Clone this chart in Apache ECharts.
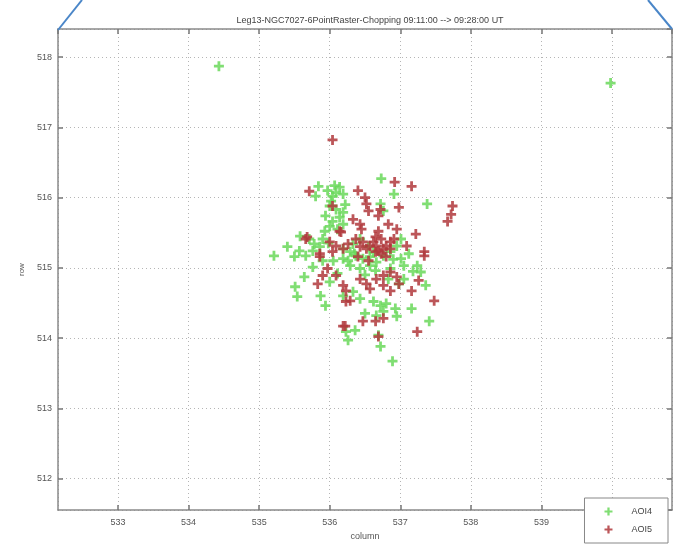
<!DOCTYPE html>
<html>
<head>
<meta charset="utf-8">
<script src="https://cdn.jsdelivr.net/npm/echarts@6/dist/echarts.min.js"></script>
<style>
  html, body { margin: 0; padding: 0; background: #fff; }
  #chart { width: 673px; height: 546px; }
</style>
</head>
<body>
<div id="chart"></div>
<script>
// AOI4 (green) centroid positions [column, row]
const aoi4Points = [
  [534.43, 517.87], [539.98, 517.63],
  [536.73, 516.27], [535.84, 516.16], [536.07, 516.17], [536.14, 516.15], [536.09, 516.07],
  [536.19, 516.05], [536.04, 516.02], [535.80, 516.02], [536.91, 516.05], [537.38, 515.91],
  [536.00, 515.88], [536.09, 515.83], [536.19, 515.79], [535.94, 515.74], [536.04, 515.66],
  [536.14, 515.72], [536.19, 515.62], [536.00, 515.59], [536.72, 515.91], [536.76, 515.81],
  [535.93, 515.52], [535.90, 515.41], [535.58, 515.45], [535.71, 515.41], [535.78, 515.34],
  [535.86, 515.30], [535.76, 515.24], [535.40, 515.30], [535.57, 515.24], [535.66, 515.17],
  [535.50, 515.16], [535.21, 515.17],
  [536.19, 515.27], [536.29, 515.23], [536.37, 515.17], [536.47, 515.13], [536.57, 515.16],
  [536.19, 515.13], [536.29, 515.03], [536.43, 514.99], [536.57, 515.03], [536.66, 515.08],
  [536.76, 515.17], [536.86, 515.23], [536.95, 515.31], [537.01, 515.41], [537.01, 515.13],
  [537.05, 515.03], [536.86, 514.99],
  [536.33, 515.34], [536.43, 515.41], [536.55, 515.30], [536.26, 515.10], [536.65, 514.96],
  [536.83, 514.84], [536.98, 514.77], [536.11, 514.92], [535.76, 515.01], [535.90, 515.10],
  [537.05, 514.84],
  [536.02, 515.95], [535.97, 516.10], [536.22, 515.90], [536.11, 515.55], [535.98, 515.35],
  [536.05, 515.10], [536.35, 515.20], [536.62, 515.22], [536.90, 515.12], [537.12, 515.20],
  [537.18, 514.95], [536.50, 514.90], [536.00, 514.80],
  [537.24, 515.03], [537.29, 514.94], [537.36, 514.75], [535.64, 514.87], [535.51, 514.73],
  [535.54, 514.59], [535.87, 514.60], [535.94, 514.46],
  [536.19, 514.60], [536.33, 514.66], [536.43, 514.56], [536.62, 514.52], [536.72, 514.46],
  [536.80, 514.49], [536.93, 514.42], [536.50, 514.35], [536.66, 514.32], [536.76, 514.38],
  [536.95, 514.31], [537.16, 514.42], [537.41, 514.24],
  [536.23, 514.09], [536.26, 513.97], [536.36, 514.11], [536.69, 514.04], [536.72, 513.88],
  [536.89, 513.67]
];

// AOI5 (red) centroid positions [column, row]
const aoi5Points = [
  [536.04, 516.82],
  [535.71, 516.09], [536.40, 516.10], [536.92, 516.22], [537.16, 516.16], [536.50, 516.00],
  [536.52, 515.91], [536.55, 515.81], [536.72, 515.83], [536.69, 515.74], [536.98, 515.86],
  [537.74, 515.88], [537.72, 515.76], [537.67, 515.66], [536.04, 515.88], [536.33, 515.69],
  [536.43, 515.62], [536.45, 515.55],
  [536.65, 515.44], [536.62, 515.37], [536.73, 515.41], [536.80, 515.31], [536.69, 515.24],
  [536.14, 515.52], [535.68, 515.44], [537.22, 515.48],
  [536.00, 515.37], [536.09, 515.31], [536.19, 515.27], [536.04, 515.23], [536.37, 515.41],
  [536.47, 515.37], [536.57, 515.31], [536.43, 515.30], [536.52, 515.27], [536.66, 515.31],
  [536.76, 515.27], [536.86, 515.37], [536.86, 515.27], [536.65, 515.23], [536.73, 515.20],
  [536.80, 515.16], [537.09, 515.31], [537.34, 515.23], [537.34, 515.17],
  [536.40, 515.16], [536.55, 515.10], [536.26, 515.34], [536.91, 515.41], [536.95, 515.55],
  [536.83, 515.62], [536.69, 515.52], [535.66, 515.41], [535.86, 515.20], [536.16, 515.51],
  [535.86, 515.16], [535.97, 514.99], [535.90, 514.89], [535.83, 514.77],
  [536.09, 514.89], [536.19, 514.75], [536.23, 514.67], [536.43, 514.84], [536.52, 514.77],
  [536.57, 514.70], [536.66, 514.84], [536.76, 514.89], [536.86, 514.94], [536.95, 514.87],
  [536.98, 514.77], [536.76, 514.75], [536.86, 514.67], [537.26, 514.82], [537.16, 514.67],
  [537.48, 514.53], [536.23, 514.52], [536.29, 514.53],
  [536.47, 514.24], [536.65, 514.24], [536.76, 514.28], [536.19, 514.17], [536.22, 514.17],
  [537.24, 514.09], [536.69, 514.02]
];

const titleText = "Leg13-NGC7027-6PointRaster-Chopping 09:11:00 --> 09:28:00 UT";

const plusPath = "path://M3.6,0H6.4V3.6H10V6.4H6.4V10H3.6V6.4H0V3.6H3.6Z";
const fontFam = "Liberation Sans, Arial, sans-serif";

const chart = echarts.init(document.getElementById("chart"));

// shared axis look (MATLAB style: box, inward ticks, dotted grid)
function axisBase(extra) {
  return Object.assign({
    type: "value",
    splitNumber: 9,
    axisLine: { show: true, onZero: false, lineStyle: { color: "#8a8a8a", width: 1.5 } },
    axisTick: { show: true, inside: true, length: 5, lineStyle: { color: "#777", width: 1.5 } },
    axisLabel: { fontSize: 9, color: "#555", fontFamily: fontFam, showMinLabel: false, showMaxLabel: false },
    splitLine: { show: true, lineStyle: { color: "#b5b5b5", type: [1, 3], width: 1 } }
  }, extra);
}

chart.setOption({
  backgroundColor: "#fff",
  animation: false,
  title: {
    text: titleText,
    left: 365,
    textAlign: "center",
    top: 11,
    textStyle: { fontSize: 9, fontWeight: "normal", color: "#444", fontFamily: fontFam }
  },
  grid: { left: 58, right: 1, top: 29, bottom: 33 },
  legend: {
    orient: "vertical",
    right: 5,
    bottom: 3,
    backgroundColor: "#fff",
    borderColor: "#888",
    borderWidth: 1,
    padding: [9, 16, 9, 20],
    itemWidth: 8,
    itemHeight: 8,
    itemGap: 9,
    textStyle: { fontSize: 9, color: "#444", fontFamily: fontFam, padding: [0, 0, 0, 14] },
    data: [
      { name: "AOI4", icon: plusPath },
      { name: "AOI5", icon: plusPath }
    ]
  },
  xAxis: [
    axisBase({
      min: 532.15, max: 540.85,
      name: "column", nameLocation: "middle", nameGap: 21,
      nameTextStyle: { fontSize: 9, color: "#555", fontFamily: fontFam }
    }),
    axisBase({
      min: 532.15, max: 540.85, position: "top",
      axisLabel: { show: false }, splitLine: { show: false }
    })
  ],
  yAxis: [
    axisBase({
      min: 511.55, max: 518.4,
      name: "row", nameLocation: "middle", nameGap: 32, nameRotate: 90,
      nameTextStyle: { fontSize: 8, color: "#555", fontFamily: fontFam },
      axisLabel: { fontSize: 9, color: "#555", fontFamily: fontFam, margin: 6, showMinLabel: false, showMaxLabel: false }
    }),
    axisBase({
      min: 511.55, max: 518.4, position: "right",
      axisLabel: { show: false }, splitLine: { show: false }
    })
  ],
  series: [
    {
      name: "AOI4",
      type: "scatter",
      data: aoi4Points,
      symbol: plusPath,
      symbolSize: 10,
      itemStyle: { color: "#6ad85a", opacity: 0.85 }
    },
    {
      name: "AOI5",
      type: "scatter",
      data: aoi5Points,
      symbol: plusPath,
      symbolSize: 10,
      itemStyle: { color: "#b0383c", opacity: 0.85 }
    }
  ],
  graphic: [
    { type: "line", shape: { x1: 58, y1: 30, x2: 82, y2: 0 }, style: { stroke: "#4a86c8", lineWidth: 2 }, z: 100 },
    { type: "line", shape: { x1: 648, y1: 0, x2: 672, y2: 29 }, style: { stroke: "#4a86c8", lineWidth: 2 }, z: 100 }
  ]
});
</script>
</body>
</html>
